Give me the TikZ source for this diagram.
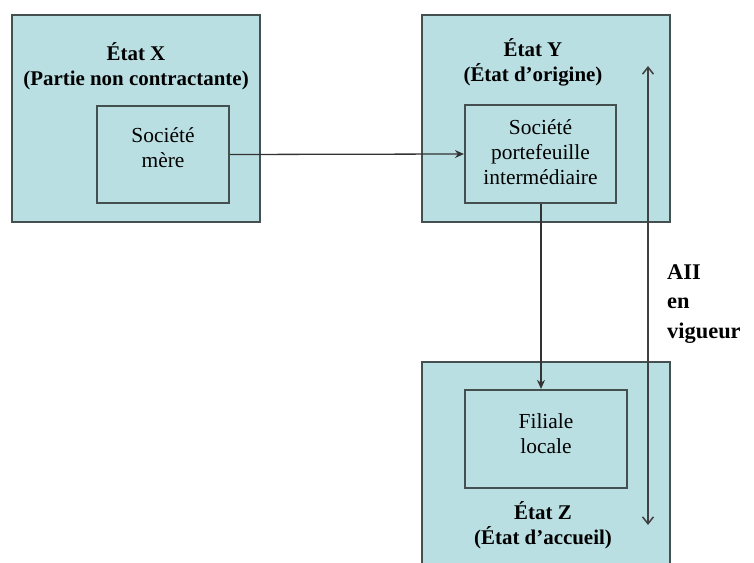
\documentclass[tikz,border=0pt]{standalone}
\usepackage{fontspec}
\setmainfont{Liberation Serif}
\usetikzlibrary{arrows.meta}
\definecolor{boxfill}{HTML}{BADFE3}
\definecolor{boxedge}{HTML}{44504F}
\tikzset{
  statebox/.style={draw=boxedge, line width=2.8pt, fill=boxfill},
  entitybox/.style={draw=boxedge, line width=2.2pt, fill=boxfill},
  title/.style={font=\fontsize{21}{25}\selectfont\bfseries, align=center, inner sep=0pt},
  label/.style={font=\fontsize{21.5}{25}\selectfont, align=center, inner sep=0pt},
  link/.style={draw=black!80, line width=1.3pt, -{Stealth[length=9pt,width=8pt]}},
  span/.style={draw=black!75, line width=1.5pt, {Straight Barb[length=7pt,width=11pt]}-{Straight Barb[length=7pt,width=11pt]}}
}
\begin{document}
\begin{tikzpicture}[x=1bp,y=-1bp]
\useasboundingbox (0,0) rectangle (754,563);
\begin{scope}
\clip (0,0) rectangle (754,563);
% state boxes
\draw[statebox] (12,15) rectangle (260,222);
\draw[statebox] (422,15) rectangle (670,222);
\draw[statebox] (422,362) rectangle (670,580);
% companies
\node[entitybox, minimum width=132bp, minimum height=97bp] (mere) at (163,154.5) {};
\node[entitybox, minimum width=151bp, minimum height=98bp] (porte) at (540.5,154) {};
\node[entitybox, minimum width=162bp, minimum height=98bp] (filiale) at (546,439) {};
\end{scope}
% titles
\node[title] (tx) at (136,66) {État X\\(Partie non contractante)};
\node[title] (ty) at (533,62) {État Y\\(État d’origine)};
\node[title] (tz) at (543,525) {État Z\\(État d’accueil)};
% entity labels, set a little above each box centre
\node[label] at ([yshift=7bp]mere.center) {Société\\mère};
\node[label] at ([yshift=2bp]porte.center) {Société\\portefeuille\\intermédiaire};
\node[label] at ([yshift=5bp]filiale.center) {Filiale\\locale};
% holdings
\draw[link] (mere.east) -- (porte.west);
\draw[link] (porte.south -| 541,0) -- (filiale.north -| 541,0);
% treaty span
\coordinate (top) at (648,66);
\coordinate (bot) at (648,525);
\draw[span] (bot) -- (top);
\node[font=\fontsize{22.5}{30}\selectfont\bfseries, align=left, anchor=west, inner sep=0pt] (aii) at (667,304) {AII\\en\\vigueur};
\end{tikzpicture}
\end{document}
